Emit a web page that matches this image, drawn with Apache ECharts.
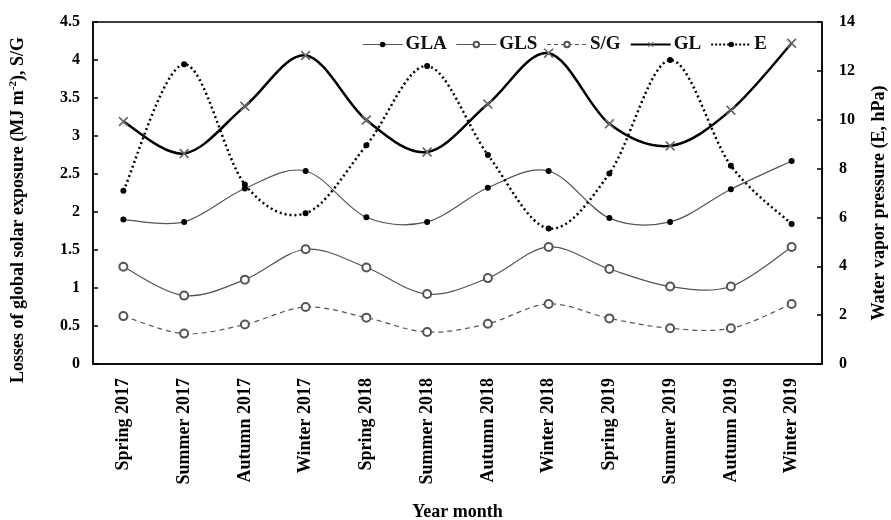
<!DOCTYPE html>
<html>
<head>
<meta charset="utf-8">
<script src="https://cdn.jsdelivr.net/npm/echarts@6/dist/echarts.min.js"></script>
<style>html,body{margin:0;padding:0;background:#fff;}#c{width:891px;height:520px;}</style>
</head>
<body>
<div id="c"></div>
<script>
var categories = ['Spring 2017','Summer 2017','Autumn 2017','Winter 2017','Spring 2018','Summer 2018','Autumn 2018','Winter 2018','Spring 2019','Summer 2019','Autumn 2019','Winter 2019'];
var GLA = [1.90, 1.87, 2.31, 2.54, 1.93, 1.87, 2.32, 2.54, 1.92, 1.87, 2.30, 2.67];
var GLS = [1.28, 0.90, 1.11, 1.51, 1.27, 0.92, 1.13, 1.54, 1.25, 1.02, 1.02, 1.54];
var SG  = [0.63, 0.40, 0.52, 0.75, 0.61, 0.42, 0.53, 0.79, 0.60, 0.47, 0.47, 0.79];
var GL  = [3.19, 2.77, 3.39, 4.06, 3.21, 2.79, 3.42, 4.09, 3.16, 2.87, 3.34, 4.22];
var E   = [7.09, 12.27, 7.35, 6.17, 8.95, 12.20, 8.56, 5.55, 7.80, 12.44, 8.12, 5.73];
var leftTicks = {min: 0, max: 4.5, interval: 0.5};
var rightTicks = {min: 0, max: 14, interval: 2};

var FONT = 'Liberation Serif, Times New Roman, serif';
var xSym = 'path://M0,1.2 L1.2,0 L5,3.8 L8.8,0 L10,1.2 L6.2,5 L10,8.8 L8.8,10 L5,6.2 L1.2,10 L0,8.8 L3.8,5 Z';
var chart = echarts.init(document.getElementById('c'), null, {renderer: 'canvas'});
var labelStyle = {color: '#000', fontFamily: FONT, fontWeight: 'bold', fontSize: 16};

// Smooth curve (Catmull-Rom style, like spreadsheet smoothed lines) through points mapped by the axes
function curveSeries(name, arr, yAxisIndex, style) {
  return {
    type: 'custom', name: name + ' curve', yAxisIndex: yAxisIndex, z: style.z || 2,
    silent: true,
    data: [[0, arr[0]]],
    renderItem: function (params, api) {
      var p = arr.map(function (v, i) { return api.coord([i, v]); });
      var d = 'M' + p[0][0] + ' ' + p[0][1];
      for (var i = 0; i < p.length - 1; i++) {
        var p0 = p[i - 1] || p[i], p1 = p[i], p2 = p[i + 1], p3 = p[i + 2] || p[i + 1];
        var c1x = p1[0] + (p2[0] - p0[0]) / 6, c1y = p1[1] + (p2[1] - p0[1]) / 6;
        var c2x = p2[0] - (p3[0] - p1[0]) / 6, c2y = p2[1] - (p3[1] - p1[1]) / 6;
        d += ' C' + c1x + ' ' + c1y + ' ' + c2x + ' ' + c2y + ' ' + p2[0] + ' ' + p2[1];
      }
      return {
        type: 'path',
        shape: {pathData: d},
        style: {fill: null, stroke: style.color, lineWidth: style.width, lineDash: style.dash || null}
      };
    }
  };
}

var curveStyles = {
  GLA: {color: '#555', width: 1.2},
  GLS: {color: '#555', width: 1.2},
  SG:  {color: '#555', width: 1.2, dash: [5, 4]},
  GL:  {color: '#000', width: 2.5},
  E:   {color: '#000', width: 2.5, dash: [2, 3]}
};

chart.setOption({
  animation: false,
  backgroundColor: '#fff',
  grid: {left: 93, right: 69, top: 22, bottom: 156, outerBoundsMode: 'none', containLabel: false, show: true, borderColor: '#000', borderWidth: 1.5, backgroundColor: 'transparent'},
  legend: {
    left: 357, top: 30, itemWidth: 40, itemHeight: 7, itemGap: 9,
    textStyle: {color: '#111', fontFamily: FONT, fontWeight: 'bold', fontSize: 19, padding: [0,0,0,-2]},
    data: [
      {name: 'GLA', lineStyle: {opacity: 1, color: '#555', width: 1.2, type: 'solid'}},
      {name: 'GLS', lineStyle: {opacity: 1, color: '#555', width: 1.2, type: 'solid'}},
      {name: 'S/G', lineStyle: {opacity: 1, color: '#555', width: 1.2, type: [4, 3]}},
      {name: 'GL', lineStyle: {opacity: 1, color: '#000', width: 2.2, type: 'solid'}},
      {name: 'E', lineStyle: {opacity: 1, color: '#000', width: 2, type: [2, 2]}}
    ]
  },
  xAxis: {
    type: 'category', data: categories, boundaryGap: true,
    axisLine: {lineStyle: {color: '#000', width: 1.5}},
    axisTick: {inside: true, length: 6, interval: 0, lineStyle: {color: '#000', width: 1.5}},
    axisLabel: Object.assign({rotate: 90, margin: 14, interval: 0}, labelStyle, {fontSize: 18}),
    name: 'Year month', nameLocation: 'middle', nameGap: 139,
    nameTextStyle: {color: '#000', fontFamily: FONT, fontWeight: 'bold', fontSize: 18}
  },
  yAxis: [{
    type: 'value', min: leftTicks.min, max: leftTicks.max, interval: leftTicks.interval,
    splitLine: {show: false},
    axisLine: {show: true, lineStyle: {color: '#000', width: 1.5}},
    axisTick: {show: true, inside: true, length: 5, lineStyle: {color: '#000', width: 1.5}},
    axisLabel: Object.assign({margin: 13}, labelStyle)
  }, {
    type: 'value', min: rightTicks.min, max: rightTicks.max, interval: rightTicks.interval,
    splitLine: {show: false},
    axisLine: {show: true, lineStyle: {color: '#000', width: 1.5}},
    axisTick: {show: true, inside: true, length: 5, lineStyle: {color: '#000', width: 1.5}},
    axisLabel: Object.assign({margin: 17}, labelStyle)
  }],
  graphic: [{
    type: 'text', x: 18, y: 210, rotation: Math.PI / 2,
    style: {
      text: '{n|Losses of global solar exposure (MJ m}{s|-2}{n|), S/G}',
      align: 'center', verticalAlign: 'middle',
      rich: {
        n: {fontFamily: FONT, fontWeight: 'bold', fontSize: 18, fill: '#000', color: '#000', lineHeight: 20},
        s: {fontFamily: FONT, fontWeight: 'bold', fontSize: 11, fill: '#000', color: '#000', verticalAlign: 'top', lineHeight: 20, padding: [0,0,8,0]}
      }
    }
  }, {
    type: 'text', x: 879, y: 203, rotation: Math.PI / 2,
    style: {
      text: 'Water vapor pressure (E, hPa)', align: 'center', verticalAlign: 'middle',
      fontFamily: FONT, fontWeight: 'bold', fontSize: 18, fill: '#000'
    }
  }],
  series: [
    curveSeries('GLA', GLA, 0, curveStyles.GLA),
    curveSeries('GLS', GLS, 0, curveStyles.GLS),
    curveSeries('S/G', SG, 0, curveStyles.SG),
    curveSeries('GL', GL, 0, curveStyles.GL),
    curveSeries('E', E, 1, curveStyles.E),
  {
    name: 'GLA', type: 'line', data: GLA,
    symbol: 'circle', symbolSize: 6,
    itemStyle: {color: '#000'}, lineStyle: {opacity: 0}, z: 5
  }, {
    name: 'GLS', type: 'line', data: GLS,
    symbol: 'emptyCircle', symbolSize: 8,
    itemStyle: {color: '#555', borderColor: '#555', borderWidth: 1.2}, lineStyle: {opacity: 0}, z: 5
  }, {
    name: 'S/G', type: 'line', data: SG,
    symbol: 'emptyCircle', symbolSize: 8,
    itemStyle: {color: '#555', borderColor: '#555', borderWidth: 1.2}, lineStyle: {opacity: 0}, z: 5
  }, {
    name: 'GL', type: 'line', data: GL,
    symbol: xSym, symbolSize: 10,
    itemStyle: {color: '#666'}, lineStyle: {opacity: 0}, z: 5
  }, {
    name: 'E', type: 'line', data: E, yAxisIndex: 1,
    symbol: 'circle', symbolSize: 6,
    itemStyle: {color: '#000'}, lineStyle: {opacity: 0}, z: 5
  }]
});
</script>
</body>
</html>
